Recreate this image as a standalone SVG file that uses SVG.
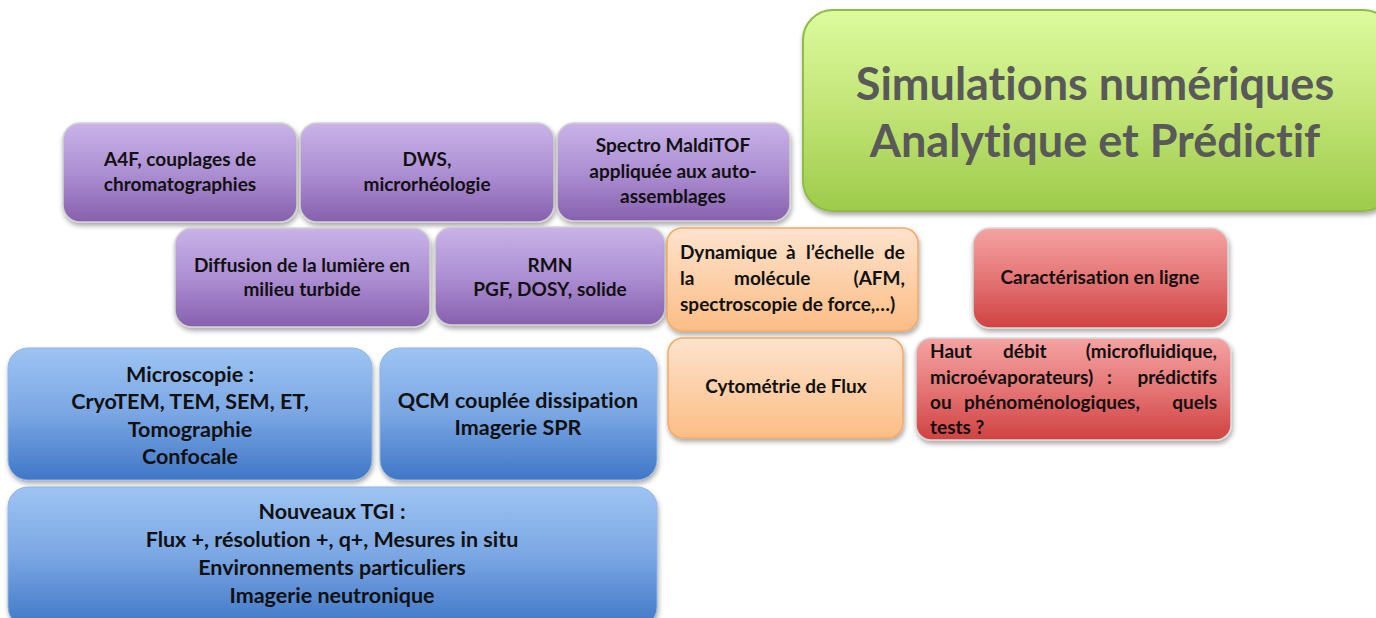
<svg xmlns="http://www.w3.org/2000/svg" width="1376" height="618" viewBox="0 0 1376 618">
<defs>
<linearGradient id="gPurple" x1="0" y1="0" x2="0" y2="1"><stop offset="0" stop-color="#c9b3e8"/><stop offset="0.5" stop-color="#ad8fd3"/><stop offset="1" stop-color="#8760ae"/></linearGradient>
<linearGradient id="gOrange" x1="0" y1="0" x2="0" y2="1"><stop offset="0" stop-color="#fde3cd"/><stop offset="1" stop-color="#fcbd85"/></linearGradient>
<linearGradient id="gRed" x1="0" y1="0" x2="0" y2="1"><stop offset="0" stop-color="#f5a3a3"/><stop offset="0.5" stop-color="#e57575"/><stop offset="1" stop-color="#d04242"/></linearGradient>
<linearGradient id="gBlue" x1="0" y1="0" x2="0" y2="1"><stop offset="0" stop-color="#9ec4f3"/><stop offset="0.5" stop-color="#7aa6e3"/><stop offset="1" stop-color="#3f77c6"/></linearGradient>
<linearGradient id="gGreen" x1="0" y1="0" x2="0" y2="1"><stop offset="0" stop-color="#dcfb9e"/><stop offset="0.5" stop-color="#c2e476"/><stop offset="1" stop-color="#9dcb4a"/></linearGradient>
<filter id="sh" x="-10%" y="-10%" width="120%" height="130%"><feDropShadow dx="1" dy="3" stdDeviation="2.5" flood-color="#000" flood-opacity="0.35"/></filter>
</defs>
<style>
text{font-variant-ligatures:none}
.t{font-family:Lato,"Open Sans","Liberation Sans",sans-serif;font-weight:bold;font-size:19px;fill:#111;text-anchor:middle}
.tl{font-family:Lato,"Open Sans","Liberation Sans",sans-serif;font-weight:bold;font-size:19px;fill:#111}
.te{font-family:Lato,"Open Sans","Liberation Sans",sans-serif;font-weight:bold;font-size:19px;fill:#111;text-anchor:end}
.tb{font-family:Lato,"Open Sans","Liberation Sans",sans-serif;font-weight:bold;font-size:21.5px;fill:#111;text-anchor:middle}
.title{font-family:Lato,"Open Sans","Liberation Sans",sans-serif;font-weight:bold;font-size:45px;fill:#595959;text-anchor:middle}
.p{fill:url(#gPurple);stroke:#d2d2d2;stroke-width:1.5;filter:url(#sh)}
.o{fill:url(#gOrange);stroke:#f3a965;stroke-width:1.5;filter:url(#sh)}
.r{fill:url(#gRed);stroke:#d9d9d9;stroke-width:1.5;filter:url(#sh)}
.b{fill:url(#gBlue);stroke:#8fb4e6;stroke-width:1;filter:url(#sh)}
.g{fill:url(#gGreen);stroke:#8fbb4a;stroke-width:2;filter:url(#sh)}
</style>
<rect width="1376" height="618" fill="#fff"/>
<g id="connectors"></g>
<g id="n-sim"><rect class="g" x="803" y="10" width="590" height="201" rx="30"/>
<text class="title" x="1095" y="100">Simulations numériques</text>
<text class="title" x="1095" y="157">Analytique et Prédictif</text></g>
<g id="n-a4f"><rect class="p" x="63" y="123" width="234" height="99" rx="17"/>
<text class="t" x="180" y="166">A4F, couplages de</text><text class="t" x="180" y="191">chromatographies</text></g>
<g id="n-dws"><rect class="p" x="300" y="123" width="254" height="99" rx="17"/>
<text class="t" x="427" y="166">DWS,</text><text class="t" x="427" y="191">microrhéologie</text></g>
<g id="n-spectro"><rect class="p" x="557" y="123" width="233" height="98" rx="17"/>
<text class="t" x="673" y="152">Spectro MaldiTOF</text><text class="t" x="673" y="178">appliquée aux auto-</text><text class="t" x="673" y="203">assemblages</text></g>
<g id="n-diffusion"><rect class="p" x="175" y="228" width="255" height="99" rx="17"/>
<text class="t" x="302" y="272">Diffusion de la lumière en</text><text class="t" x="302" y="296">milieu turbide</text></g>
<g id="n-rmn"><rect class="p" x="435" y="227" width="230" height="98" rx="17"/>
<text class="t" x="550" y="272">RMN</text><text class="t" x="550" y="296">PGF, DOSY, solide</text></g>
<g id="n-dyn"><rect class="o" x="667" y="228" width="251" height="103" rx="15"/>
<text class="tl" x="680" y="259">Dynamique</text><text class="tl" x="786" y="259">à</text><text class="tl" x="806" y="259">l’échelle</text><text class="te" x="905" y="259">de</text>
<text class="tl" x="680" y="285">la</text><text class="tl" x="734" y="285">molécule</text><text class="te" x="905" y="285">(AFM,</text>
<text class="tl" x="680" y="311">spectroscopie de force,…)</text></g>
<g id="n-carac"><rect class="r" x="973" y="228" width="255" height="100" rx="17"/>
<text class="t" x="1100" y="284">Caractérisation en ligne</text></g>
<g id="n-cyto"><rect class="o" x="668" y="338" width="235" height="100" rx="15"/>
<text class="t" x="786" y="393">Cytométrie de Flux</text></g>
<g id="n-haut"><rect class="r" x="916" y="338" width="315" height="102" rx="15"/>
<text class="tl" x="930" y="358">Haut</text><text class="tl" x="1003" y="358">débit</text><text class="te" x="1217" y="358">(microfluidique,</text>
<text class="tl" x="930" y="384">microévaporateurs)</text><text class="tl" x="1107" y="384">:</text><text class="te" x="1217" y="384">prédictifs</text>
<text class="tl" x="930" y="409">ou</text><text class="tl" x="964" y="409">phénoménologiques,</text><text class="te" x="1217" y="409">quels</text>
<text class="tl" x="930" y="434">tests ?</text></g>
<g id="n-micro"><rect class="b" x="8" y="348" width="364" height="132" rx="20"/>
<text class="tb" x="190" y="382">Microscopie :</text><text class="tb" x="190" y="409">CryoTEM, TEM, SEM, ET,</text><text class="tb" x="190" y="437">Tomographie</text><text class="tb" x="190" y="464">Confocale</text></g>
<g id="n-qcm"><rect class="b" x="380" y="348" width="277" height="132" rx="20"/>
<text class="tb" x="518" y="408">QCM couplée dissipation</text><text class="tb" x="518" y="435">Imagerie SPR</text></g>
<g id="n-tgi"><rect class="b" x="8" y="487" width="649" height="140" rx="20"/>
<text class="tb" x="332" y="519">Nouveaux TGI :</text><text class="tb" x="332" y="547">Flux +, résolution +, q+, Mesures in situ</text><text class="tb" x="332" y="575">Environnements particuliers</text><text class="tb" x="332" y="603">Imagerie neutronique</text></g>
</svg>
